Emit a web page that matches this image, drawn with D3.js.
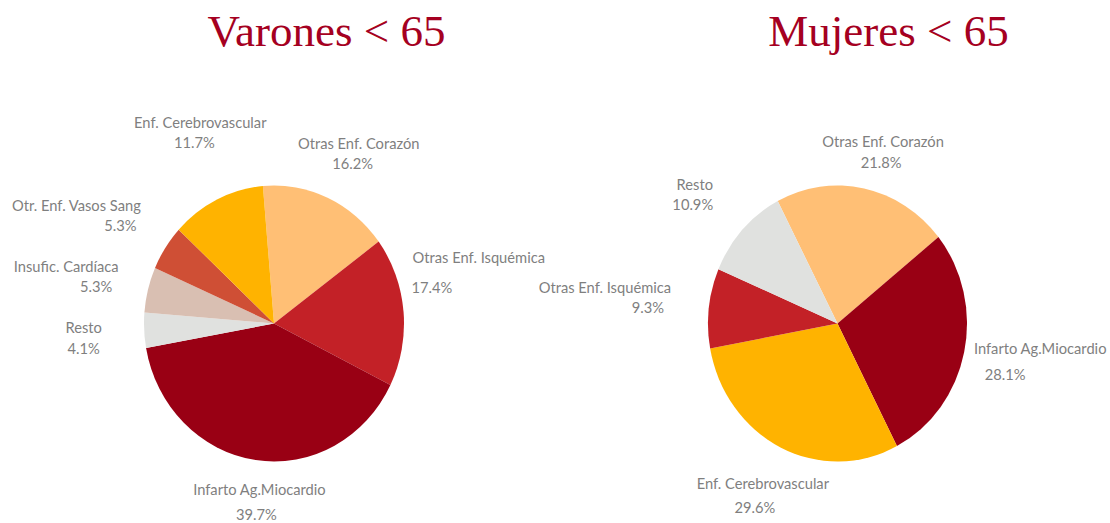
<!DOCTYPE html>
<html>
<head>
<meta charset="utf-8">
<script src="https://cdn.jsdelivr.net/npm/d3@7"></script>
<style>
    body { margin: 0; background: #fff; }
    .title { font-family: "Liberation Serif", serif; fill: #a50021; }
    .lbl { font-family: Lato, "Open Sans", sans-serif; font-size: 14.7px; fill: #7f7f7f; }
</style>
</head>
<body>
<svg id="vis-svg"></svg>
<script>
// categories in clockwise order for each pie
const menCategories = ["Otras Enf. Corazón", "Otras Enf. Isquémica", "Infarto Ag.Miocardio", "Resto", "Insufic. Cardíaca", "Otr. Enf. Vasos Sang", "Enf. Cerebrovascular"];
const menValues = [16.2, 17.4, 39.7, 4.1, 5.3, 5.3, 11.7];

const womenCategories = ["Otras Enf. Corazón", "Infarto Ag.Miocardio", "Enf. Cerebrovascular", "Otras Enf. Isquémica", "Resto"];
const womenValues = [21.8, 28.1, 29.6, 9.3, 10.9];

const titles = ["Varones < 65", "Mujeres < 65"];

// colour per cause
const causes = ["Infarto Ag.Miocardio", "Otras Enf. Isquémica", "Otras Enf. Corazón", "Enf. Cerebrovascular", "Otr. Enf. Vasos Sang", "Insufic. Cardíaca", "Resto"];
const causeColors = ["#990014", "#c32127", "#ffbf75", "#ffb300", "#cf4f35", "#d9bfb2", "#e0e1df"];

const color = d3.scaleOrdinal().domain(causes).range(causeColors);

const width = 1110, height = 523;
const svg = d3.select("#vis-svg")
    .attr("width", width)
    .attr("height", height);

// label nudges relative to the outside anchor: [nameDx, nameDy, pctDx, pctDy]
const menNudge = [[7, 4, 1, 24], [17, -47, -30, -17], [12, -30, 9, -5], [-2, -4, -2, 17], [-25, -6, 5, 14], [-40, -6, 4, 14], [9, -19, 3, 1]];
const womenNudge = [[7, 16, 5, 37], [19, -15, -16, 11], [8, -18, 0, 6], [-46, -12, -3, 8], [-5, -1, -7, 19]];

function drawPie(opts) {
    let {categories, values, title, cx, cy, rx, ry, startDeg, nudge, titleX} = opts;

    svg.append("text")
        .attr("class", "title")
        .attr("x", titleX)
        .attr("y", 46)
        .attr("text-anchor", "middle")
        .style("font-size", "45px")
        .text(title);

    let start = startDeg * Math.PI / 180;
    let pie = d3.pie()
        .sort(null)
        .startAngle(start)
        .endAngle(start + 2 * Math.PI);

    let data = pie(values)
        .map((a, i) => Object.assign(a, {cat: categories[i]}));

    let arc = d3.arc().innerRadius(0).outerRadius(rx);

    // the picture is a little taller than wide, so squash the circle into an ellipse
    let g = svg.append("g")
        .attr("transform", `translate(${cx},${cy}) scale(1,${ry / rx})`);

    g.selectAll("path")
        .data(data)
        .enter()
            .append("path")
            .attr("d", arc)
            .style("fill", d => color(d.cat));

    const k = 1.45;
    let anchor = d => {
        let a = (d.startAngle + d.endAngle) / 2;
        return [cx + rx * k * Math.sin(a), cy - ry * k * Math.cos(a)];
    };

    let labels = svg.selectAll(null)
        .data(data)
        .enter()
            .append("g")
            .attr("class", "lbl");

    labels.append("text")
        .attr("x", (d, i) => anchor(d)[0] + nudge[i][0])
        .attr("y", (d, i) => anchor(d)[1] + nudge[i][1])
        .attr("text-anchor", "middle")
        .attr("dominant-baseline", "middle")
        .text(d => d.cat);

    labels.append("text")
        .attr("x", (d, i) => anchor(d)[0] + nudge[i][2])
        .attr("y", (d, i) => anchor(d)[1] + nudge[i][3])
        .attr("text-anchor", "middle")
        .attr("dominant-baseline", "middle")
        .text(d => d3.format(".1f")(d.value) + "%");
}

drawPie({categories: menCategories, values: menValues, title: titles[0],
    cx: 274, cy: 323.5, rx: 130, ry: 138, startDeg: -4.9, nudge: menNudge, titleX: 326.5});
drawPie({categories: womenCategories, values: womenValues, title: titles[1],
    cx: 837.5, cy: 323.5, rx: 129.5, ry: 138, startDeg: -27.5, nudge: womenNudge, titleX: 888.5});
</script>
</body>
</html>
